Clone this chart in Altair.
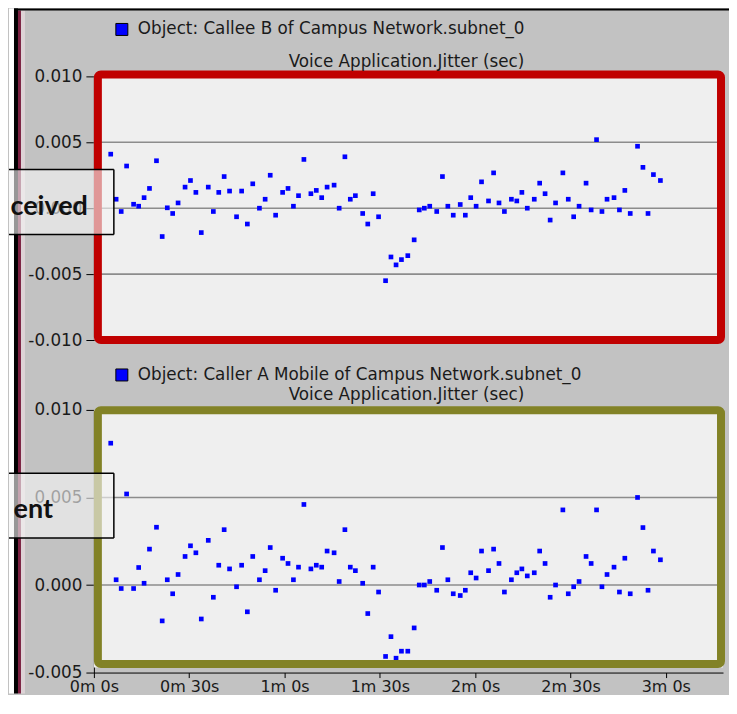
import altair as alt
import pandas as pd

# ---------------- data ----------------
time_s = [5.3, 7.0, 8.6, 10.3, 12.5, 14.1, 15.8, 17.5, 19.7, 21.5,
          23.1, 24.8, 26.5, 28.7, 30.4, 32.1, 33.8, 36.0, 37.6, 39.3,
          41.0, 42.7, 44.9, 46.5, 48.3, 50.0, 52.1, 53.9, 55.5, 57.2,
          59.4, 61.1, 62.8, 64.4, 66.1, 68.3, 70.0, 71.7, 73.4, 75.6,
          77.2, 79.0, 80.7, 82.3, 84.6, 86.2, 87.9, 89.6, 91.8, 93.5,
          95.1, 96.8, 98.8, 100.8, 102.4, 104.0, 105.7, 107.9, 109.7, 111.4,
          113.1, 115.3, 116.9, 118.6, 120.3, 122.0, 124.2, 125.8, 127.5, 129.2,
          131.4, 133.1, 134.7, 136.4, 138.6, 140.3, 142.0, 143.6, 145.3, 147.6,
          149.3, 151.0, 152.7, 154.9, 156.5, 158.2, 159.9, 161.5, 163.7, 165.4,
          167.1, 168.8, 171.1, 172.8, 174.4, 176.1, 178.3]

callee_b_jitter = [0.0041, 0.00068, -0.00025, 0.0032, 0.0003, 0.00015, 0.0008, 0.0015, 0.0036, -0.00215,
                   0.00003, -0.0004, 0.0004, 0.0016, 0.0021, 0.0012, -0.00185, 0.0016, -0.00025, 0.0012,
                   0.0024, 0.0013, -0.00065, 0.0013, -0.0012, 0.00185, 0.0, 0.00068, 0.0025, -0.00053,
                   0.0012, 0.0015, 0.00015, 0.00095, 0.0037, 0.0011, 0.00135, 0.0008, 0.0016, 0.00175,
                   0.0, 0.0039, 0.00068, 0.00095, -0.0004, -0.0012, 0.0011, -0.00065, -0.0055, -0.0037,
                   -0.0043, -0.0039, -0.0036, -0.0024, -0.00013, 0.0, 0.00015, -0.00025, 0.0024, 0.00015,
                   -0.00053, 0.00028, -0.00053, 0.0008, 0.00015, 0.002, 0.00055, 0.00268, 0.0004, -0.00025,
                   0.00068, 0.00055, 0.0012, 0.0, 0.00068, 0.0019, 0.0011, -0.0009, 0.0004, 0.00268,
                   0.00068, -0.00065, 0.00015, 0.0019, -0.00013, 0.0052, -0.00025, 0.00068, 0.0008, -0.00013,
                   0.00135, -0.0004, 0.0047, 0.0031, -0.0004, 0.00255, 0.0021]

caller_a_jitter = [0.0081, 0.0003, -0.0002, 0.0052, -0.0002, 0.001, 0.0001, 0.00205, 0.0033, -0.00205,
                   0.0003, -0.0005, 0.0006, 0.00163, 0.00224, 0.00184, -0.00194, 0.00255, -0.0007, 0.00113,
                   0.00316, 0.00092, -0.0001, 0.00113, -0.00153, 0.00163, 0.0003, 0.00082, 0.00214, -0.0003,
                   0.00153, 0.00123, 0.0003, 0.00102, 0.0046, 0.00092, 0.00113, 0.00102, 0.00194, 0.00184,
                   0.0002, 0.00316, 0.00102, 0.00082, 0.0001, -0.00163, 0.00102, -0.0004, -0.00408, -0.00295,
                   -0.00418, -0.00378, -0.00378, -0.00245, 0.0, 0.0, 0.0002, -0.0003, 0.00214, 0.0003,
                   -0.0005, -0.0006, -0.0003, 0.0007, 0.0004, 0.00194, 0.00082, 0.00205, 0.00123, -0.0004,
                   0.0003, 0.0007, 0.00092, 0.00052, 0.0007, 0.00194, 0.00123, -0.0007, 0.0, 0.00429,
                   -0.0005, -0.0001, 0.0002, 0.00163, 0.00123, 0.00429, -0.0001, 0.0006, 0.00102, -0.0004,
                   0.00153, -0.0005, 0.005, 0.00328, -0.0003, 0.00194, 0.00144]

top_y_ticks = [-0.01, -0.005, 0.0, 0.005, 0.01]
top_grid = [-0.005, 0.0, 0.005]
bottom_y_ticks = [-0.005, 0.0, 0.005, 0.01]
bottom_grid = [0.0, 0.005]
x_ticks = [0, 30, 60, 90, 120, 150, 180]

top_object = "Object: Callee B of Campus Network.subnet_0"
bottom_object = "Object: Caller A Mobile of Campus Network.subnet_0"
stat_name = "Voice Application.Jitter (sec)"
top_tag = "Received"
bottom_tag = "Sent"

# ---------------- styling ----------------
W, H_TOP, H_BOT = 630, 264, 263
GRAY = "#c2c2c2"
PLOT_BG = "#efefef"
GRID = "#8c8c8c"
TXT = "#1a1a1a"
FONT = "DejaVu Sans"
FS_TITLE = 16.8
FS_AXIS = 16

top_df = pd.DataFrame({"t": time_s, "jitter": callee_b_jitter})
bot_df = pd.DataFrame({"t": time_s, "jitter": caller_a_jitter})
one = pd.DataFrame({"k": [0]})

x_scale = alt.Scale(domain=[0, 198], nice=False, zero=False)
y_scale_top = alt.Scale(domain=[-0.01, 0.01], nice=False, zero=False)
y_scale_bot = alt.Scale(domain=[-0.005, 0.01], nice=False, zero=False)

label_expr_y = "(datum.value < 0 ? '-' : '') + format(abs(datum.value), '.3f')"


def y_axis(values):
    return alt.Axis(values=values, labelExpr=label_expr_y, title=None, grid=False,
                    domainColor="black", tickColor="black", tickSize=8, labelPadding=4,
                    labelFont=FONT, labelFontSize=16.8, labelColor=TXT)


x_axis_bottom = alt.Axis(values=x_ticks, title=None, grid=False, labelFlush=False,
                         labelExpr="floor(datum.value / 60) + 'm ' + (datum.value % 60) + 's'",
                         domainColor="black", tickColor="black", tickSize=5, labelPadding=1,
                         labelFont=FONT, labelFontSize=FS_AXIS, labelColor=TXT)


def deco_rect(x, x2, y, y2, **kw):
    return alt.Chart(one).mark_rect(**kw).encode(
        x=alt.value(x), x2=alt.value(x2), y=alt.value(y), y2=alt.value(y2))


def deco_text(txt, x, y, **kw):
    return alt.Chart(one).mark_text(**kw).encode(
        x=alt.value(x), y=alt.value(y), text=alt.value(txt))


def deco_rule(x, x2, y, y2, **kw):
    return alt.Chart(one).mark_rule(**kw).encode(
        x=alt.value(x), x2=alt.value(x2), y=alt.value(y), y2=alt.value(y2))


def panel(df, yscale, yticks, grid_vals, height, bg_h, border_color, border_y, border_y2,
          object_txt, title_y1, title_y2, tag, tag_box, tag_x, tag_y, tag_limit, xaxis, extra=None):
    y_ax = y_axis(yticks)
    layers = []
    if extra:
        layers += extra
    layers.append(deco_rect(0, W, 0, bg_h, color=PLOT_BG))
    layers.append(
        alt.Chart(pd.DataFrame({"g": grid_vals})).mark_rule(color=GRID, strokeWidth=1.6).encode(
            y=alt.Y("g:Q", scale=yscale, axis=y_ax))
    )
    layers.append(
        alt.Chart(df).mark_square(size=22, color="#0000ff", opacity=1).encode(
            x=alt.X("t:Q", scale=x_scale, axis=xaxis),
            y=alt.Y("jitter:Q", scale=yscale, axis=y_ax))
    )
    # coloured frame
    layers.append(deco_rect(4, 628, border_y, border_y2, fill="white", fillOpacity=0,
                            stroke=border_color, strokeWidth=8, cornerRadius=3))
    # legend swatch and titles
    layers.append(alt.Chart(one).mark_square(size=144, fill="#0000ff", stroke="black",
                                             strokeWidth=1, opacity=1, filled=True).encode(
        x=alt.value(28), y=alt.value(title_y1)))
    layers.append(deco_text(object_txt, 44, title_y1, align="left", baseline="middle",
                            font=FONT, fontSize=FS_TITLE, color=TXT))
    layers.append(deco_text(stat_name, 313, title_y2, align="center", baseline="middle",
                            font=FONT, fontSize=FS_TITLE, color=TXT))
    # callout tag box (its left part is cut off by the window edge, as in the reference)
    bx0, bx1, by0, by1 = tag_box
    layers.append(deco_rect(bx0, bx1, by0, by1, color="#f4f4f4", opacity=0.62))
    layers.append(deco_rule(bx0, bx1, by0, by0, color="black", strokeWidth=1.5))
    layers.append(deco_rule(bx0, bx1, by1, by1, color="black", strokeWidth=1.5))
    layers.append(deco_rule(bx1, bx1, by0, by1, color="black", strokeWidth=1.5))
    layers.append(deco_text(tag, tag_x, tag_y, align="right", baseline="alphabetic",
                            font="Lato", fontWeight="bold", fontSize=27, color="#111111",
                            dir="rtl", limit=tag_limit, ellipsis="\u200b"))
    return alt.layer(*layers).properties(width=W, height=height)


# window frame decorations (in top-panel coordinates; plot origin sits at page 93,76)
frame = [
    deco_rect(-85, 636, -68, 618, color=GRAY, opacity=0),
    deco_rect(-85, -80, -68, 618, color="white"),
    deco_rect(-80, -76, -68, 618, color="black"),
    deco_rect(-76, -73, -66, 618, color="#7a2040"),
    deco_rect(-73, -69, -66, 618, color="#ddd3d6"),
    deco_rect(-80, 636, -68, -66, color="black"),
]

top = panel(top_df, y_scale_top, top_y_ticks, top_grid, H_TOP, H_TOP, "#c00000", -2, 264,
            top_object, -47, -14, top_tag, (-85, 20, 93.3, 158.3), -6, 139, 78,
            None, extra=frame)
bottom = panel(bot_df, y_scale_bot, bottom_y_ticks, bottom_grid, H_BOT, 258, "#828226", 0.3, 254.5,
               bottom_object, -35, -14.5, bottom_tag, (-85, 20, 63.3, 128.3), -41, 108, 44,
               x_axis_bottom)

chart = alt.vconcat(top, bottom, spacing=70, bounds="flush").properties(
    padding={"left": 0, "top": 0, "right": 0, "bottom": 0},
    autosize=alt.AutoSizeParams(type="pad"),
    background=GRAY,
).configure_view(strokeWidth=0)

chart.save("out.html", embed_options={"renderer": "svg", "actions": False})
